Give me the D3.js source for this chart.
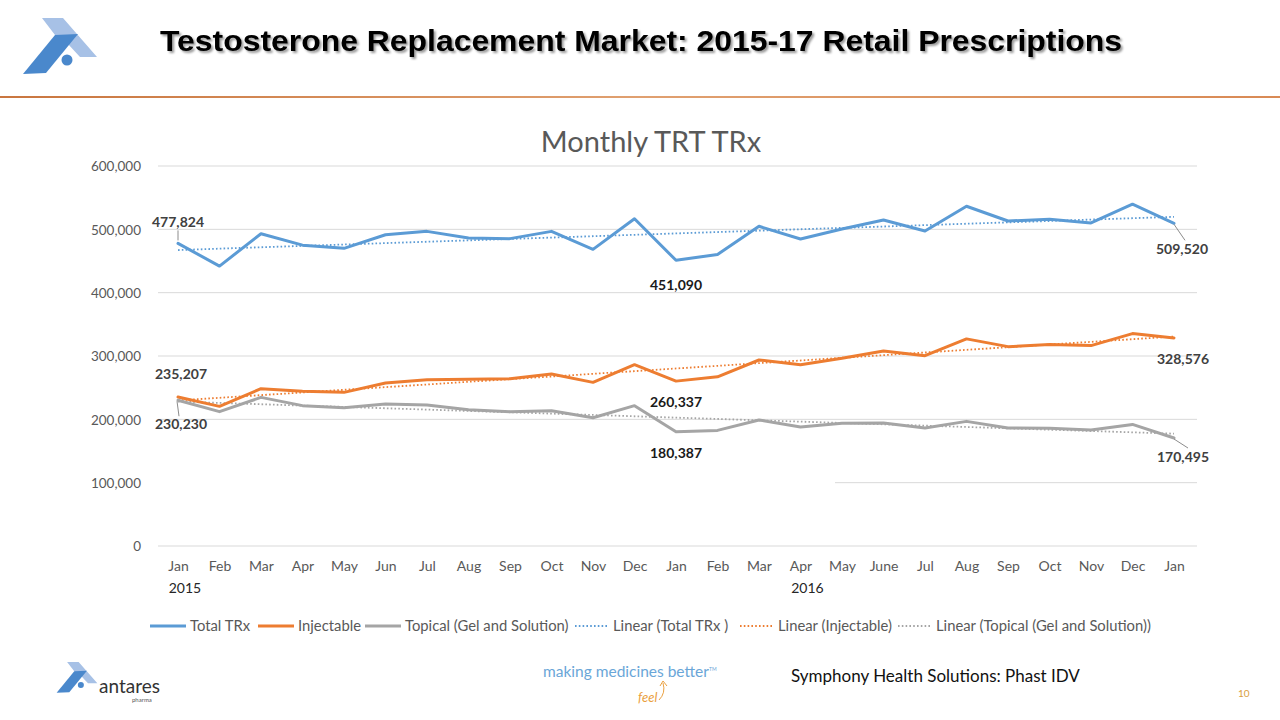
<!DOCTYPE html>
<html><head><meta charset="utf-8">
<script src="https://cdn.jsdelivr.net/npm/d3@7"></script>
<style>
html,body{margin:0;padding:0;background:#fff;}
svg{display:block;}
</style></head>
<body>
<svg id="c" width="1280" height="720"></svg>
<script>
const months = ["Jan","Feb","Mar","Apr","May","Jun","Jul","Aug","Sep","Oct","Nov","Dec","Jan","Feb","Mar","Apr","May","June","Jul","Aug","Sep","Oct","Nov","Dec","Jan"];
const years = [{label:"2015", idx:0}, {label:"2016", idx:15}];
const totalTRx = [477824,442000,493000,475000,470000,491500,496800,486300,485300,496800,468400,516800,451090,460300,504800,484700,500500,514800,497400,536500,513200,515900,510100,539700,509520];
const injectable = [235207,220500,248400,244200,242600,257400,262600,263200,264200,271600,258400,286300,260337,267200,293700,286200,296300,308000,300500,327000,314800,318000,316400,335400,328576];
const topical = [230230,212100,234700,221600,218400,224200,222600,215300,212100,213700,202600,221600,180387,182500,199000,187800,193700,194200,186200,196800,186200,186000,183100,192000,170495];
const yTicks = [0,100000,200000,300000,400000,500000,600000];
const seriesNames = ["Total TRx","Injectable","Topical (Gel and Solution)"];
const trendNames = ["Linear (Total TRx )","Linear (Injectable)","Linear (Topical (Gel and Solution))"];
const colors = ["#5B9BD5","#ED7D31","#A5A5A5"];

const svg = d3.select("#c");
const F = "Lato, 'Open Sans', sans-serif";

// ---- header ----
const defs = svg.append("defs");
const flt = defs.append("filter").attr("id","sh").attr("x","-5%").attr("y","-30%").attr("width","110%").attr("height","160%");
flt.append("feDropShadow").attr("dx",2).attr("dy",2).attr("stdDeviation",1.2).attr("flood-color","#000").attr("flood-opacity",0.4);
const grad = defs.append("linearGradient").attr("id","rule");
grad.append("stop").attr("offset","0%").attr("stop-color","#C9763F");
grad.append("stop").attr("offset","50%").attr("stop-color","#E0A070");
grad.append("stop").attr("offset","100%").attr("stop-color","#D98A55");

function logo(g){
  g.append("polygon").attr("points","42,18 63,18 97,57 80,57 68,44 55,35").attr("fill","#A7C1E6");
  g.append("polygon").attr("points","23,74 46,73 78,34 55,35").attr("fill","#4A88CC");
  g.append("circle").attr("cx",67).attr("cy",60).attr("r",5.5).attr("fill","#4A88CC");
}
logo(svg.append("g"));

svg.append("text").attr("x",160).attr("y",51)
  .attr("font-family","'Liberation Sans', Arial, sans-serif").attr("font-weight","bold")
  .attr("font-size",29).attr("fill","#000").attr("filter","url(#sh)")
  .attr("textLength",962).attr("lengthAdjust","spacingAndGlyphs")
  .text("Testosterone Replacement Market: 2015-17 Retail Prescriptions");
svg.append("rect").attr("x",0).attr("y",96).attr("width",1280).attr("height",2).attr("fill","url(#rule)");

// ---- chart ----
const x = d3.scalePoint().domain(d3.range(months.length)).range([178,1174]);
const y = d3.scaleLinear().domain([0,600000]).range([546,166]);
const gridX0 = 158, gridX1 = 1197;

const grid = svg.append("g");
yTicks.forEach(t=>{
  grid.append("line").attr("x1", t===100000 ? 835 : gridX0).attr("x2",gridX1)
    .attr("y1",y(t)).attr("y2",y(t)).attr("stroke","#D9D9D9").attr("stroke-width",1);
});
const yAxis = d3.axisLeft(y).tickValues(yTicks).tickFormat(d3.format(",")).tickSize(0).tickPadding(0);
const ya = svg.append("g").attr("transform","translate(141,0)").call(yAxis);
ya.select(".domain").remove();
ya.selectAll("text").attr("font-family",F).attr("font-size",13.5).attr("fill","#595959").attr("dy","0.35em");

const xAxis = d3.axisBottom(x).tickFormat(i=>months[i]).tickSize(0).tickPadding(0);
const xa = svg.append("g").attr("transform","translate(0,560)").call(xAxis);
xa.select(".domain").remove();
xa.selectAll("text").attr("font-family",F).attr("font-size",14).attr("fill","#595959").attr("dy","0.75em");
years.forEach(yy=>{
  svg.append("text").attr("x",x(yy.idx)+7).attr("y",593).attr("text-anchor","middle")
    .attr("font-family",F).attr("font-size",14).attr("fill","#262626").text(yy.label);
});

svg.append("text").attr("x",651).attr("y",152).attr("text-anchor","middle")
  .attr("font-family",F).attr("font-size",29).attr("fill","#595959").text("Monthly TRT TRx");

const data = [totalTRx, injectable, topical];
const line = d3.line().x((d,i)=>x(i)).y(d=>y(d));

// trendlines (least-squares fit, as Excel "Linear" trendline)
data.forEach((s,k)=>{
  const n = s.length, xs = d3.range(n);
  const mx = d3.mean(xs), my = d3.mean(s);
  const b = d3.sum(xs, i=>(i-mx)*(s[i]-my)) / d3.sum(xs, i=>(i-mx)*(i-mx));
  const a = my - b*mx;
  svg.append("line").attr("x1",x(0)).attr("x2",x(n-1))
    .attr("y1",y(a)).attr("y2",y(a+b*(n-1)))
    .attr("stroke",colors[k]).attr("stroke-width",1.8).attr("stroke-dasharray","1.6,2.2");
});
data.forEach((s,k)=>{
  svg.append("path").datum(s).attr("d",line).attr("fill","none")
    .attr("stroke",colors[k]).attr("stroke-width",3).attr("stroke-linejoin","round").attr("stroke-linecap","round");
});

// data labels
const fmt = d3.format(",");
const last = months.length-1, mid = 12;
const labels = [
  {s:0,i:0,dx:0,dy:-16,lead:[0,-3,0,-13],c:"#404040"},
  {s:1,i:0,dx:3,dy:-18,c:"#404040"},
  {s:2,i:0,dx:3,dy:29,lead:[-1,1,1,16],c:"#404040"},
  {s:0,i:mid,dx:0,dy:30,c:"#1a1a1a"},
  {s:1,i:mid,dx:0,dy:26,c:"#1a1a1a"},
  {s:2,i:mid,dx:0,dy:26,c:"#1a1a1a"},
  {s:0,i:last,dx:8,dy:31,lead:[0,1,11,17],c:"#404040"},
  {s:1,i:last,dx:9,dy:26,c:"#404040"},
  {s:2,i:last,dx:9,dy:24,lead:[0,1,14,10],c:"#404040"}
];
labels.forEach(l=>{
  const px = x(l.i), py = y(data[l.s][l.i]);
  if(l.lead){
    svg.append("line").attr("x1",px+l.lead[0]).attr("y1",py+l.lead[1])
      .attr("x2",px+l.lead[2]).attr("y2",py+l.lead[3]).attr("stroke","#8C8C8C").attr("stroke-width",1);
  }
  svg.append("text").attr("x",px+l.dx).attr("y",py+l.dy).attr("text-anchor","middle")
    .attr("font-family",F).attr("font-weight","bold").attr("font-size",14).attr("fill",l.c)
    .text(fmt(data[l.s][l.i]));
});

// legend
const legX = [150,258,365,575,740,898];
const legNames = seriesNames.concat(trendNames);
legNames.forEach((name,k)=>{
  const g = svg.append("g").attr("transform",`translate(${legX[k]},626)`);
  const c = colors[k%3];
  if(k<3){
    g.append("line").attr("x1",0).attr("x2",36).attr("stroke",c).attr("stroke-width",3);
  } else {
    g.append("line").attr("x1",0).attr("x2",34).attr("stroke",c).attr("stroke-width",1.8).attr("stroke-dasharray","1.6,2.2");
  }
  g.append("text").attr("x",k<3?40:38).attr("y",5).attr("font-family",F).attr("font-size",14.8)
    .attr("fill","#595959").text(name);
});

// ---- footer ----
const fl = svg.append("g").attr("transform","translate(44,652) scale(0.55)");
logo(fl.append("g"));
svg.append("text").attr("x",99).attr("y",693).attr("font-family",F).attr("font-size",19).attr("fill","#333").text("antares");
svg.append("text").attr("x",132).attr("y",702).attr("font-family",F).attr("font-size",6).attr("fill","#555").text("pharma");

svg.append("text").attr("x",543).attr("y",677).attr("font-family",F).attr("font-size",15.5).attr("fill","#6AA6D8").text("making medicines better");
svg.append("text").attr("x",709).attr("y",671).attr("font-family",F).attr("font-size",5).attr("fill","#6AA6D8").text("TM");
svg.append("text").attr("x",638).attr("y",702).attr("font-family",F).attr("font-style","italic").attr("font-size",13).attr("fill","#EAA040").text("feel");
svg.append("path").attr("d","M659,700 Q666,693 663,683 M660,686 L663,681 L667,686").attr("fill","none").attr("stroke","#EAA040").attr("stroke-width",1);

svg.append("text").attr("x",791).attr("y",682).attr("font-family",F).attr("font-size",17).attr("fill","#111").text("Symphony Health Solutions: Phast IDV");
svg.append("text").attr("x",1238).attr("y",697).attr("font-family",F).attr("font-size",10).attr("fill","#D9A040").text("10");
</script>
</body></html>
